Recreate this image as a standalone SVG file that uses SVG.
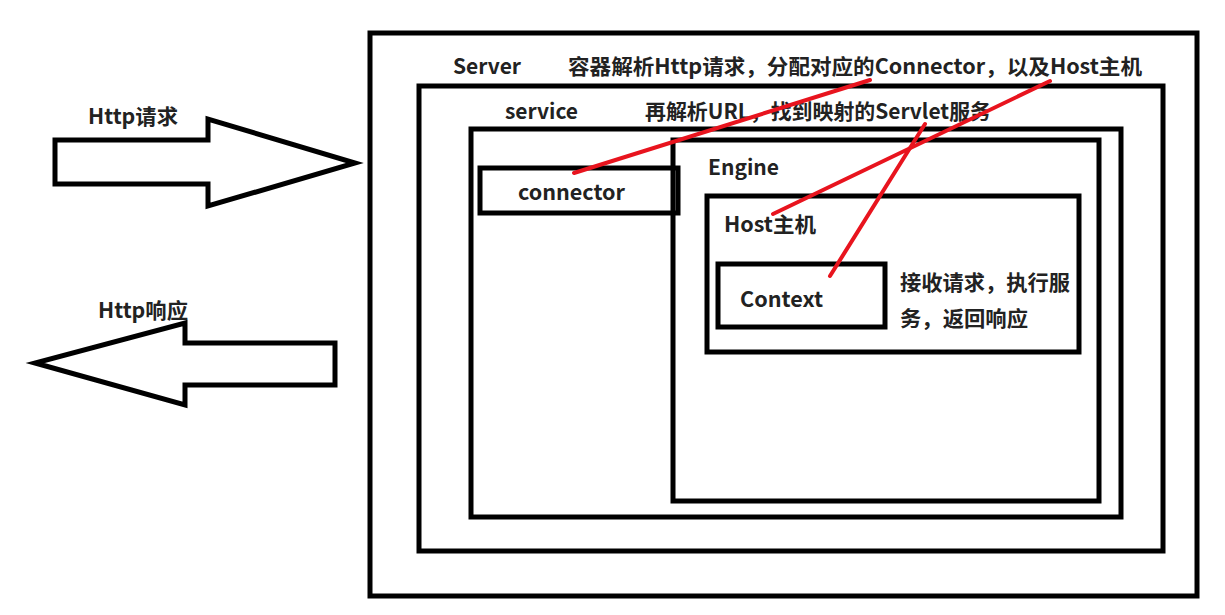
<svg xmlns="http://www.w3.org/2000/svg" width="1225" height="615" viewBox="0 0 1225 615">
<style>
.box{fill:none;stroke:#000;stroke-width:5}
.arr{fill:#fff;stroke:#000;stroke-width:5;stroke-linejoin:miter}
.t{font-family:"Noto Sans CJK SC","Microsoft YaHei","Noto Sans",sans-serif;font-weight:bold;font-size:21px;fill:#222}
.red{stroke:#e8141e;stroke-width:4;stroke-linecap:round;fill:none}
</style>
<rect width="1225" height="615" fill="#fff"/>
<g id="http-request">
<polygon class="arr" points="55,140 208,140 208,119 355,163 208,206 208,184 55,184"/>
<text class="t" x="88" y="124" textLength="90" lengthAdjust="spacingAndGlyphs">Http请求</text>
</g>
<g id="http-response">
<polygon class="arr" points="335,343 185,343 185,323 35,363 185,405 185,385 335,385"/>
<text class="t" x="98" y="318" textLength="90" lengthAdjust="spacingAndGlyphs">Http响应</text>
</g>
<g id="server">
<rect class="box" x="370" y="33" width="827" height="563"/>
<text class="t" x="453" y="74" textLength="68" lengthAdjust="spacingAndGlyphs">Server</text>
<text class="t" x="568" y="74" textLength="574" lengthAdjust="spacingAndGlyphs">容器解析Http请求，分配对应的Connector，以及Host主机</text>
</g>
<g id="service">
<rect class="box" x="419" y="86" width="744" height="465"/>
<text class="t" x="505" y="119" textLength="73" lengthAdjust="spacingAndGlyphs">service</text>
<text class="t" x="645" y="119" textLength="346" lengthAdjust="spacingAndGlyphs">再解析URL，找到映射的Servlet服务</text>
</g>
<g id="container">
<rect class="box" x="471" y="129" width="650" height="388"/>
</g>
<g id="engine">
<rect class="box" x="673" y="140" width="426" height="361"/>
<text class="t" x="708" y="175" textLength="71" lengthAdjust="spacingAndGlyphs">Engine</text>
</g>
<g id="connector">
<rect class="box" x="480" y="168" width="198" height="45"/>
<text class="t" x="518" y="200" textLength="107" lengthAdjust="spacingAndGlyphs">connector</text>
</g>
<g id="host">
<rect class="box" x="707" y="196" width="372" height="156"/>
<text class="t" x="724" y="232" textLength="92" lengthAdjust="spacingAndGlyphs">Host主机</text>
</g>
<g id="context">
<rect class="box" x="718" y="264" width="167" height="63"/>
<text class="t" x="740" y="307" textLength="83" lengthAdjust="spacingAndGlyphs">Context</text>
<text class="t" x="900" y="290" textLength="170" lengthAdjust="spacingAndGlyphs">接收请求，执行服</text>
<text class="t" x="900" y="326" textLength="128" lengthAdjust="spacingAndGlyphs">务，返回响应</text>
</g>
<g id="connectors">
<line class="red" x1="574" y1="173" x2="870" y2="80"/>
<line class="red" x1="773" y1="214" x2="1050" y2="81"/>
<line class="red" x1="830" y1="276" x2="925" y2="124"/>
</g>
</svg>
